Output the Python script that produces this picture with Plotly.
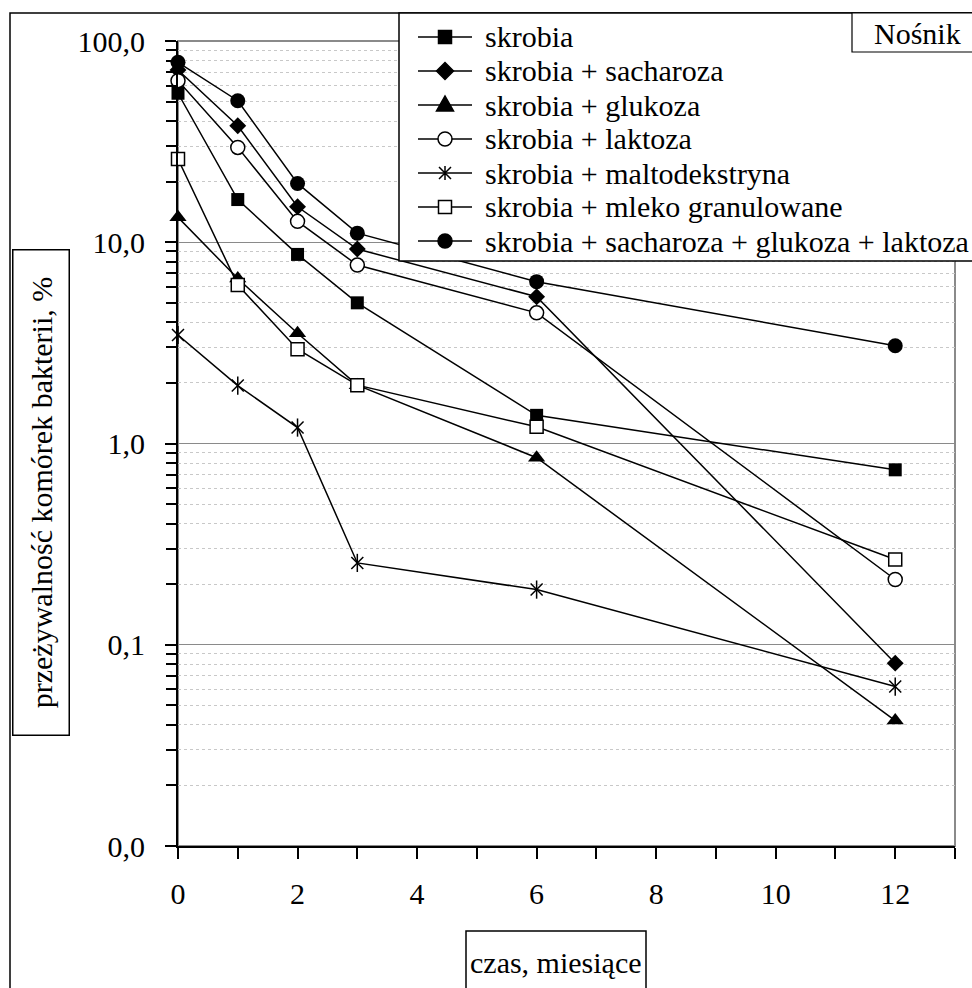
import plotly.graph_objects as go

# ---------------- data ----------------
months = [0, 1, 2, 3, 6, 12]

series_names = [
    "skrobia",
    "skrobia + sacharoza",
    "skrobia + glukoza",
    "skrobia + laktoza",
    "skrobia + maltodekstryna",
    "skrobia + mleko granulowane",
    "skrobia + sacharoza + glukoza + laktoza",
]

skrobia = [55.0, 16.3, 8.7, 5.0, 1.38, 0.74]
skrobia_sacharoza = [71.8, 37.9, 15.0, 9.25, 5.36, 0.081]
skrobia_glukoza = [13.3, 6.6, 3.53, 1.95, 0.85, 0.042]
skrobia_laktoza = [63.5, 29.6, 12.7, 7.7, 4.46, 0.211]
skrobia_maltodekstryna = [3.46, 1.94, 1.20, 0.255, 0.188, 0.062]
skrobia_mleko = [25.9, 6.13, 2.94, 1.95, 1.21, 0.265]
skrobia_mix = [78.4, 50.5, 19.6, 11.1, 6.37, 3.06]

y_tick_vals = [0.01, 0.1, 1, 10, 100]
y_tick_text = ["0,0", "0,1", "1,0", "10,0", "100,0"]
x_tick_vals = [0, 2, 4, 6, 8, 10, 12]

y_title = "przeżywalność komórek bakterii, %"
x_title = "czas, miesiące"
legend_title = "Nośnik"

# ---------------- layout constants ----------------
W, H = 972, 988
L, R, T, B = 178, 955, 41, 846
FONT = "Liberation Serif"
FS = 30


def fx(px):
    return (px - L) / (R - L)


def fy(py):
    return (B - py) / (B - T)


values = [skrobia, skrobia_sacharoza, skrobia_glukoza, skrobia_laktoza,
          skrobia_maltodekstryna, skrobia_mleko, skrobia_mix]

marker_styles = [
    dict(symbol="square", size=13, color="black"),
    dict(symbol="diamond", size=13, color="black"),
    dict(symbol="triangle-up", size=15, color="black"),
    dict(symbol="circle", size=14, color="white", line=dict(color="black", width=1.5)),
    dict(symbol="x-thin-open", size=12, color="black", line=dict(color="black", width=1.5)),
    dict(symbol="square", size=13, color="white", line=dict(color="black", width=1.5)),
    dict(symbol="circle", size=15, color="black"),
]

fig = go.Figure()
for name, vals, mk in zip(series_names, values, marker_styles):
    fig.add_trace(go.Scatter(
        x=months, y=vals, name=name, mode="lines+markers",
        line=dict(color="black", width=1.5),
        marker=mk, showlegend=False, cliponaxis=False,
    ))
    if mk["symbol"] == "x-thin-open":
        # vertical stroke completing the asterisk marker
        fig.add_trace(go.Scatter(
            x=months, y=vals, mode="markers", showlegend=False, cliponaxis=False,
            marker=dict(symbol="line-ns-open", size=13, color="black",
                        line=dict(color="black", width=1.5)),
            hoverinfo="skip",
        ))

minor_y = [k * 10 ** d for d in (-2, -1, 0, 1) for k in range(2, 10)]

fig.update_layout(
    width=W, height=H,
    margin=dict(l=L, r=W - R, t=T, b=H - B, pad=0),
    paper_bgcolor="white", plot_bgcolor="white",
    font=dict(family=FONT, size=FS, color="black"),
    showlegend=False,
    xaxis=dict(
        range=[0, 13], tickmode="array", tickvals=x_tick_vals,
        ticks="outside", ticklen=11, tickwidth=2, tickcolor="black",
        showline=True, linecolor="black", linewidth=2,
        showgrid=False, zeroline=False,
        ticklabelstandoff=9,
        tickfont=dict(family=FONT, size=FS, color="black"),
        minor=dict(dtick=1, tick0=0, ticks="outside", ticklen=11, tickwidth=2,
                   tickcolor="black", showgrid=False),
    ),
    yaxis=dict(
        type="log", range=[-2, 2], tickmode="array",
        tickvals=y_tick_vals, ticktext=y_tick_text,
        ticks="outside", ticklen=11, tickwidth=2, tickcolor="black",
        showline=True, linecolor="black", linewidth=2,
        showgrid=True, gridcolor="#8a8a8a", gridwidth=1,
        zeroline=False, ticklabelstandoff=14,
        tickfont=dict(family=FONT, size=FS, color="black"),
        minor=dict(tickmode="array", tickvals=minor_y, ticks="outside", ticklen=10,
                   tickwidth=2, tickcolor="black", showgrid=True,
                   gridcolor="#c8c8c8", griddash="dot", gridwidth=1),
    ),
)

shapes = []
# plot-area border (grey, visible on top and right)
shapes.append(dict(type="rect", xref="paper", yref="paper", x0=0, x1=1, y0=0, y1=1,
                   line=dict(color="#8a8a8a", width=2), layer="below"))
# outer chart border
shapes.append(dict(type="rect", xref="paper", yref="paper",
                   x0=fx(10), x1=fx(1000), y0=fy(1020), y1=fy(13),
                   line=dict(color="black", width=1.5), layer="above"))
# legend box
LEG_L, LEG_T, LEG_B = 399, 13, 261
shapes.append(dict(type="rect", xref="paper", yref="paper",
                   x0=fx(LEG_L), x1=fx(1000), y0=fy(LEG_B), y1=fy(LEG_T),
                   line=dict(color="black", width=1.5), fillcolor="white", layer="above"))
# legend title box
shapes.append(dict(type="rect", xref="paper", yref="paper",
                   x0=fx(852), x1=fx(1000), y0=fy(52), y1=fy(LEG_T),
                   line=dict(color="black", width=1.2), fillcolor="white", layer="above"))
# x title box
shapes.append(dict(type="rect", xref="paper", yref="paper",
                   x0=fx(466), x1=fx(646), y0=fy(1010), y1=fy(931),
                   line=dict(color="black", width=1.5), fillcolor="white", layer="above"))

annotations = []
ROW0, ROW_GAP = 37, 34
GLYPH_X, LINE_X0, LINE_X1, TEXT_X = 445, 418, 472, 483


def glyph(kind, cx, cy, filled):
    fill = "black" if filled else "white"
    base = dict(xref="paper", yref="paper", xsizemode="pixel", ysizemode="pixel",
                xanchor=fx(cx), yanchor=fy(cy), layer="above",
                line=dict(color="black", width=1.5), fillcolor=fill)
    if kind == "square":
        return dict(type="rect", x0=-6.5, x1=6.5, y0=-6.5, y1=6.5, **base)
    if kind == "circle":
        return dict(type="circle", x0=-7, x1=7, y0=-7, y1=7, **base)
    if kind == "diamond":
        return dict(type="path", path="M0,8.5L8.5,0L0,-8.5L-8.5,0Z", **base)
    if kind == "triangle-up":
        return dict(type="path", path="M-8.5,-6L8.5,-6L0,9Z", **base)
    # asterisk
    b = dict(base)
    b.pop("fillcolor")
    return dict(type="path", path="M-6,-6L6,6M-6,6L6,-6M0,-7L0,7", **b)


legend_glyphs = [("square", True), ("diamond", True), ("triangle-up", True),
                 ("circle", False), ("star", False), ("square", False), ("circle", True)]

for i, (name, (kind, filled)) in enumerate(zip(series_names, legend_glyphs)):
    cy = ROW0 + i * ROW_GAP
    shapes.append(dict(type="line", xref="paper", yref="paper",
                       x0=fx(LINE_X0), x1=fx(LINE_X1), y0=fy(cy), y1=fy(cy),
                       line=dict(color="black", width=1.5), layer="above"))
    shapes.append(glyph(kind, GLYPH_X, cy, filled))
    annotations.append(dict(xref="paper", yref="paper", x=fx(TEXT_X), y=fy(cy),
                            xanchor="left", yanchor="middle", showarrow=False,
                            text=name, font=dict(family=FONT, size=FS, color="black")))

annotations.append(dict(xref="paper", yref="paper", x=fx(872), y=fy(33),
                        xanchor="left", yanchor="middle", showarrow=False,
                        text=legend_title, font=dict(family=FONT, size=FS, color="black")))
annotations.append(dict(xref="paper", yref="paper", x=fx(556), y=fy(962),
                        xanchor="center", yanchor="middle", showarrow=False,
                        text=x_title, font=dict(family=FONT, size=FS, color="black")))
annotations.append(dict(xref="paper", yref="paper", x=fx(41), y=fy(493),
                        xanchor="center", yanchor="middle", showarrow=False,
                        textangle=-90, width=484, height=55, borderpad=0,
                        bordercolor="black", borderwidth=1.5, bgcolor="white",
                        text=y_title, font=dict(family=FONT, size=FS, color="black")))

fig.update_layout(shapes=shapes, annotations=annotations)
fig.write_html("out.html")
